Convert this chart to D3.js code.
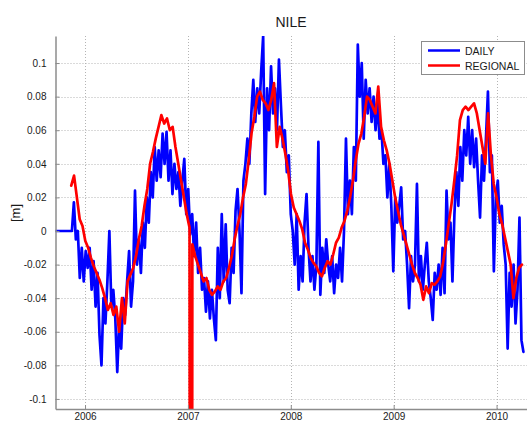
<!DOCTYPE html>
<html>
<head>
<meta charset="utf-8">
<script src="https://cdn.jsdelivr.net/npm/d3@7"></script>
<style>
  body { margin: 0; background: #fff; }
  svg { display: block; font-family: "Liberation Sans", Arial, Helvetica, sans-serif; }
</style>
</head>
<body>
<svg id="chart" width="527" height="421"></svg>
<script>
// ---- data -------------------------------------------------------------
const chartTitle = "NILE";
const yAxisLabel = "[m]";
const yearTicks = [2006, 2007, 2008, 2009, 2010];
const valueTicks = [-0.1, -0.08, -0.06, -0.04, -0.02, 0, 0.02, 0.04, 0.06, 0.08, 0.1];
const valueTickLabels = ["-0.1", "-0.08", "-0.06", "-0.04", "-0.02", "0", "0.02", "0.04", "0.06", "0.08", "0.1"];
const seriesNames = ["DAILY", "REGIONAL"];
const seriesColors = ["#0000ff", "#ff0000"];

// daily solution: weekly samples starting at the decimal year below
const dailyStart = 2005.70;
const dailyStepDays = 7;
const dailyValues = [
  0, 0, 0, 0, 0, 0, 0, 0, 0, 0,
  0.017, -0.005, 0.000, -0.028, -0.010, -0.030, -0.012, -0.022, -0.010, -0.035,
  -0.018, -0.045, -0.025, -0.062, -0.080, -0.040, -0.055, -0.030, 0.000, -0.045,
  -0.035, -0.052, -0.084, -0.055, -0.070, -0.040, -0.050, -0.030, -0.012,
  -0.045, -0.030, 0.024, -0.020, -0.005, -0.025, 0.005, -0.010, 0.020, 0.005,
  0.035, 0.020, 0.050, 0.030, 0.048, 0.032, 0.058, 0.040, 0.059, 0.030,
  0.048, 0.022, 0.040, 0.025, 0.035, 0.015, 0.030, 0.043, 0.010, 0.025,
  -0.002, 0.010, -0.015, 0.005, -0.025, -0.010, -0.035, -0.028, -0.048, -0.030,
  -0.052,
  -0.035, -0.052, -0.065, -0.010, -0.040, 0.010, -0.030, 0.004, -0.035, -0.043,
  -0.010, -0.025, 0.012, 0.025, 0.000, -0.037, 0.030, 0.040, 0.055, 0.040,
  0.070, 0.090, 0.065, 0.085, 0.070, 0.095, 0.116, 0.022, 0.085, 0.060,
  0.098, 0.070, 0.085, 0.060, 0.102, 0.075, 0.050, 0.060, 0.035, 0.045,
  0.010,
  0.000, -0.020, 0.010, -0.035, -0.015, -0.030, 0.005, 0.022, -0.010, -0.030,
  -0.015, -0.035, -0.020, 0.053, -0.038, -0.010, -0.025, -0.005, -0.020, -0.030,
  -0.015, -0.037, -0.020, -0.028, -0.010, -0.030, 0.000, 0.055, 0.010, 0.030,
  0.010, 0.050, 0.030, 0.111, 0.080, 0.100, 0.055, 0.090, 0.070, 0.085,
  0.065, 0.080, 0.060, 0.078, 0.055, 0.060, 0.040, 0.045, 0.020, 0.040,
  0.015, -0.024, 0.020, 0.005, 0.015, 0.026, -0.005, 0.000, -0.020, -0.046,
  -0.015, -0.030, -0.020, 0.028, -0.030, -0.015, -0.035, -0.020, -0.007, -0.030,
  -0.040, -0.053, -0.025, -0.035, -0.020, -0.038, -0.010, -0.037, 0.024, -0.005,
  0.005,
  -0.030, 0.010, 0.035, 0.015, 0.050, 0.030, 0.060, 0.045, 0.068, 0.040,
  0.060, 0.038, 0.055, 0.030, 0.008, 0.045, 0.030, 0.055, 0.083, 0.035,
  0.045, -0.024, 0.020, 0.030, 0.005, 0.015, -0.008, -0.020, -0.070, -0.025,
  -0.045, -0.020, -0.055, -0.035, 0.008, -0.065, -0.072
];

// regional solution: 10-day samples
const regionalStart = 2005.866;
const regionalStepDays = 10;
const regionalValues = [
  0.027, 0.033, 0.020, 0.007, 0.003, -0.006, -0.010, -0.016, -0.021, -0.025,
  -0.029, -0.034, -0.040, -0.047, -0.043, -0.050, -0.045, -0.060, -0.040, -0.055,
  -0.030, -0.026, -0.022, -0.015, -0.005, 0.003, 0.015, 0.025, 0.040, 0.047,
  0.055, 0.062, 0.069, 0.064, 0.067, 0.060, 0.062, 0.050, 0.040, 0.030,
  0.020, 0.010, 0.002, -0.008, -0.015, -0.020, -0.025, -0.030, -0.028, -0.035,
  -0.038, -0.036, -0.033, -0.035, -0.030, -0.028, -0.022, -0.015, -0.005, 0.003,
  0.010, 0.020, 0.028, 0.042, 0.058, 0.068, 0.080, 0.083, 0.078, 0.076,
  0.072, 0.078, 0.088, 0.050, 0.062, 0.055, 0.046, 0.036, 0.022, 0.014,
  0.010, 0.006, 0.001, -0.007, -0.011, -0.016, -0.019, -0.021, -0.025, -0.027,
  -0.022, -0.018, -0.020, -0.014, -0.007, -0.004, 0.002, 0.006, 0.012, 0.020,
  0.030, 0.042, 0.052, 0.058, 0.068, 0.080, 0.078, 0.074, 0.070, 0.086,
  0.062, 0.054, 0.048, 0.040, 0.030, 0.020, 0.012, 0.004, -0.002, -0.008,
  -0.014, -0.020, -0.025, -0.028, -0.032, -0.041, -0.033, -0.037, -0.031, -0.032,
  -0.030, -0.027, -0.019, -0.008, 0.004, 0.016, 0.030, 0.045, 0.066, 0.072,
  0.074, 0.072, 0.074, 0.076, 0.070, 0.060, 0.050, 0.040, 0.070, 0.045,
  0.028, 0.020, 0.010, 0.004, -0.004, -0.012, -0.020, -0.040, -0.028, -0.022,
  -0.020
];
// single bad epoch in the regional solution (far below the plotted range)
const regionalDropTime = [2007.0292];
const regionalDropValue = [-1.0];

// ---- build point lists -----------------------------------------------
const yearLength = 365.25;
const dailyPoints = dailyValues.map((v, i) => ({ t: dailyStart + i * dailyStepDays / yearLength, v }));
const regionalPoints = regionalValues
  .map((v, i) => ({ t: regionalStart + i * regionalStepDays / yearLength, v }))
  .concat(regionalDropTime.map((t, i) => ({ t, v: regionalDropValue[i] })))
  .sort((a, b) => a.t - b.t);

// ---- layout ------------------------------------------------------------
const W = 527, H = 421;
const plot = { left: 55.5, right: 527, top: 36, bottom: 409 };

const svg = d3.select("#chart");

const x = d3.scaleLinear().domain([2005.713, 2010.296]).range([plot.left, plot.right]);
const y = d3.scaleLinear().domain([-0.106, 0.1161]).range([plot.bottom, plot.top]);

svg.append("rect").attr("width", W).attr("height", H).attr("fill", "#fff");

svg.append("defs").append("clipPath").attr("id", "plotClip")
  .append("rect")
  .attr("x", plot.left).attr("y", plot.top)
  .attr("width", plot.right - plot.left).attr("height", plot.bottom - plot.top);

// grid
const grid = svg.append("g").attr("stroke", "#b4b4b4").attr("stroke-width", 1)
  .attr("stroke-dasharray", "1,2");
grid.selectAll("line.gx").data(yearTicks).join("line")
  .attr("class", "gx")
  .attr("x1", d => Math.round(x(d)) + 0.5).attr("x2", d => Math.round(x(d)) + 0.5)
  .attr("y1", plot.top).attr("y2", plot.bottom);
grid.selectAll("line.gy").data(valueTicks).join("line")
  .attr("class", "gy")
  .attr("y1", d => Math.round(y(d)) + 0.5).attr("y2", d => Math.round(y(d)) + 0.5)
  .attr("x1", plot.left).attr("x2", plot.right);

// series
const line = d3.line().x(d => x(d.t)).y(d => y(d.v));
const series = svg.append("g").attr("clip-path", "url(#plotClip)")
  .attr("fill", "none").attr("stroke-width", 2.7)
  .attr("stroke-linejoin", "round").attr("stroke-linecap", "round");
series.append("path").datum(dailyPoints).attr("stroke", seriesColors[0]).attr("d", line);
series.append("path").datum(regionalPoints).attr("stroke", seriesColors[1]).attr("d", line);

// axes
const xAxis = d3.axisBottom(x).tickValues(yearTicks).tickFormat(d3.format("d"))
  .tickSizeInner(-4).tickSizeOuter(0).tickPadding(3.5);
const gx = svg.append("g").attr("transform", `translate(0,${plot.bottom})`).call(xAxis);

const yAxis = d3.axisLeft(y).tickValues(valueTicks)
  .tickFormat((d, i) => valueTickLabels[i])
  .tickSizeInner(-4).tickSizeOuter(0).tickPadding(9);
const gy = svg.append("g").attr("transform", `translate(${plot.left},0)`).call(yAxis);

[gx, gy].forEach(g => {
  g.select(".domain").attr("stroke", "#8c8c8c").attr("stroke-width", 1.5);
  g.selectAll(".tick line").attr("stroke", "#8c8c8c");
  g.selectAll(".tick text").attr("fill", "#1a1a1a").attr("font-size", 10)
    .attr("font-family", "Liberation Sans, Arial, sans-serif");
});

// title and axis label
svg.append("text").attr("x", 291).attr("y", 27).attr("text-anchor", "middle")
  .attr("font-size", 14).attr("fill", "#1a1a1a").text(chartTitle);
svg.append("text").attr("transform", "translate(20,213) rotate(-90)")
  .attr("text-anchor", "middle").attr("font-size", 13).attr("fill", "#1a1a1a").text(yAxisLabel);

// legend
const legend = svg.append("g").attr("transform", "translate(421,41)");
legend.append("rect").attr("x", 0.5).attr("y", 0.5).attr("width", 103).attr("height", 33)
  .attr("fill", "#fff").attr("stroke", "#8c8c8c").attr("stroke-width", 1);
seriesNames.forEach((name, i) => {
  const ly = 9.5 + i * 15;
  legend.append("line").attr("x1", 7).attr("x2", 39).attr("y1", ly).attr("y2", ly)
    .attr("stroke", seriesColors[i]).attr("stroke-width", 2.5);
  legend.append("text").attr("x", 44).attr("y", ly + 4).attr("font-size", 10.5)
    .attr("fill", "#1a1a1a").text(name);
});
</script>
</body>
</html>
